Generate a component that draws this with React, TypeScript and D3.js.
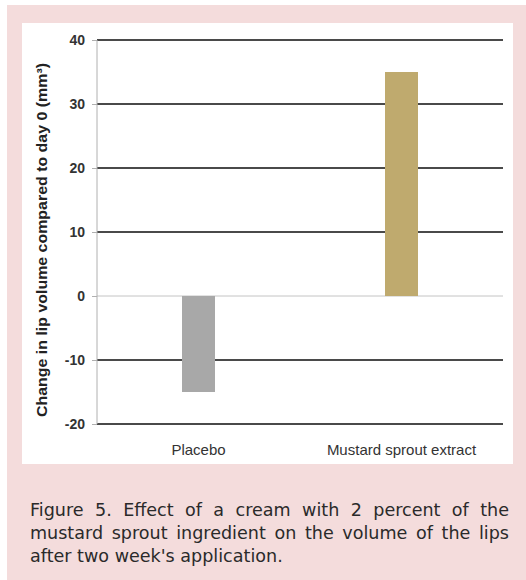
import { useEffect, useRef } from 'react';
import * as d3 from 'd3';

const categories = ['Placebo', 'Mustard sprout extract'];
const values = [-15, 35];
const barColors = ['#a8a8a8', '#bfaa6e'];
const yTicks = [-20, -10, 0, 10, 20, 30, 40];
const yTitle = 'Change in lip volume compared to day 0 (mm³)';
const captionLines = [
  'Figure 5. Effect of a cream with 2 percent of the',
  'mustard sprout ingredient on the volume of the lips',
  "after two week's application.",
];

export default function App() {
  const ref = useRef<SVGSVGElement>(null);

  useEffect(() => {
    if (!ref.current) return;
    const svg = d3.select(ref.current);
    svg.selectAll('*').remove();

    // frame
    svg.append('rect').attr('x', 7).attr('y', 5).attr('width', 519).attr('height', 575).attr('fill', '#f4dcdc');
    svg.append('rect').attr('x', 22).attr('y', 23).attr('width', 491).attr('height', 441).attr('fill', '#ffffff');

    const left = 97;
    const right = 503;
    const y = d3.scaleLinear().domain([-20, 40]).range([424, 40]);
    const x = d3.scaleBand<string>().domain(categories).range([left, right]);
    const barW = 33;

    // gridlines
    svg.append('g')
      .selectAll('line')
      .data(yTicks)
      .join('line')
      .attr('x1', left)
      .attr('x2', right)
      .attr('y1', (d) => y(d))
      .attr('y2', (d) => y(d))
      .attr('stroke', (d) => (d === 0 ? '#c4c4c4' : '#4a4a4a'))
      .attr('stroke-width', (d) => (d === 0 ? 1 : 2));

    // bars
    svg.append('g')
      .selectAll('rect')
      .data(categories)
      .join('rect')
      .attr('x', (d) => (x(d) ?? 0) + x.bandwidth() / 2 - barW / 2)
      .attr('width', barW)
      .attr('y', (_, i) => y(Math.max(0, values[i])))
      .attr('height', (_, i) => Math.abs(y(values[i]) - y(0)))
      .attr('fill', (_, i) => barColors[i]);

    // y axis
    const axis = svg.append('g')
      .attr('transform', `translate(${left},0)`)
      .call(d3.axisLeft(y).tickValues(yTicks).tickSize(5).tickPadding(7).tickFormat((d) => String(d)));
    axis.select('.domain').attr('stroke', '#b0b0b0').attr('d', `M0,${y(40)}V${y(-20)}`);
    axis.selectAll('.tick line').attr('stroke', '#b0b0b0');
    axis.selectAll('.tick text')
      .attr('fill', '#333')
      .attr('font-family', 'Liberation Sans, Arial, sans-serif')
      .attr('font-size', 14)
      .attr('font-weight', 'bold');

    // category labels
    svg.append('g')
      .selectAll('text')
      .data(categories)
      .join('text')
      .attr('x', (d) => (x(d) ?? 0) + x.bandwidth() / 2)
      .attr('y', 455)
      .attr('text-anchor', 'middle')
      .attr('fill', '#333')
      .attr('font-family', 'Liberation Sans, Arial, sans-serif')
      .attr('font-size', 15)
      .text((d) => d);

    // y title
    svg.append('text')
      .attr('transform', `translate(47,240) rotate(-90)`)
      .attr('text-anchor', 'middle')
      .attr('fill', '#222')
      .attr('font-family', 'Liberation Sans, Arial, sans-serif')
      .attr('font-size', 14)
      .attr('font-weight', 'bold')
      .attr('textLength', 354)
      .attr('lengthAdjust', 'spacingAndGlyphs')
      .text(yTitle);

    // caption: wide geometric look via horizontal stretch, first two lines justified
    const capLeft = 30;
    const capRight = 509;
    const lastWidth = 253;
    const cap = svg.append('g');
    const texts = captionLines.map((line, i) =>
      cap.append('text')
        .attr('x', 0)
        .attr('y', 516 + i * 23)
        .attr('fill', '#2a2a2a')
        .attr('font-family', 'DejaVu Sans, sans-serif')
        .attr('font-size', 17.5)
        .text(line)
    );
    const last = texts[texts.length - 1].node() as SVGTextElement;
    const k = lastWidth / last.getComputedTextLength();
    cap.attr('transform', `translate(${capLeft},0) scale(${k},1)`);
    texts.forEach((t, i) => {
      if (i < texts.length - 1) {
        const w = (t.node() as SVGTextElement).getComputedTextLength();
        const gaps = captionLines[i].split(' ').length - 1;
        const ws = ((capRight - capLeft) / k - w) / gaps;
        if (ws >= 0) t.attr('word-spacing', ws);
        else t.attr('textLength', (capRight - capLeft) / k).attr('lengthAdjust', 'spacingAndGlyphs');
      }
    });
  }, []);

  return (
    <svg
      ref={ref}
      width={526}
      height={580}
      style={{ position: 'absolute', left: 0, top: 0, background: '#fff' }}
    />
  );
}
